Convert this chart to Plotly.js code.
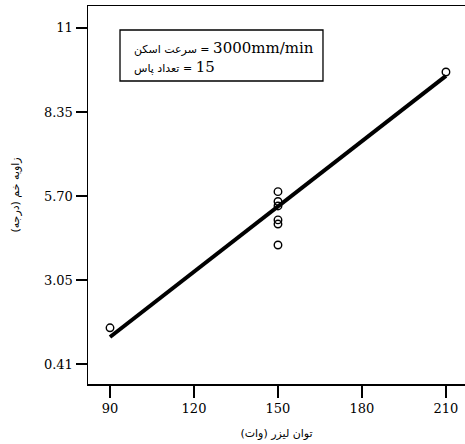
<!DOCTYPE html>
<html>
<head>
<meta charset="utf-8">
<script src="https://cdn.plot.ly/plotly-3.0.1.min.js"></script>
<style>html,body{margin:0;padding:0;background:#fff;}</style>
</head>
<body>
<div id="chart" style="width:465px;height:444px;"></div>
<script>
const laserPower = [90, 150, 150, 150, 150, 150, 150, 210];
const bendAngle = [1.55, 5.84, 5.53, 5.39, 4.95, 4.82, 4.16, 9.61];
// Fitted line end points
const fitPower = [90, 210];
const fitAngle = [1.26, 9.49];
// Tick labels
const xTickVals = [90, 120, 150, 180, 210];
const yTickVals = [0.41, 3.05, 5.70, 8.35, 11];
const yTickText = ["0.41", "3.05", "5.70", "8.35", "11"];
// Texts
const xTitle = "توان لیزر (وات)";
const yTitle = "زاویه خم (درجه)";
const noteLabel1 = "سرعت اسکن";
const noteValue1 = "3000mm/min";
const noteLabel2 = "تعداد پاس";
const noteValue2 = "15";

const arFont = "DejaVu Sans, Noto Sans, sans-serif";
const numFont = "DejaVu Serif, Liberation Serif, serif";

const traces = [
  {
    x: fitPower, y: fitAngle, type: 'scatter', mode: 'lines',
    line: {color: '#000', width: 4}, hoverinfo: 'skip', showlegend: false
  },
  {
    x: laserPower, y: bendAngle, type: 'scatter', mode: 'markers',
    marker: {symbol: 'circle-open', size: 7.5, color: '#000', line: {color: '#000', width: 1.4}},
    showlegend: false
  }
];

function noteText(label, value) {
  return label + '\u200E = \u200E<span style="font-family:DejaVu Serif;font-size:15px">' + value + '</span>';
}

const layout = {
  width: 465, height: 444,
  margin: {l: 88, r: 0, t: 6, b: 60, pad: 0},
  paper_bgcolor: '#fff', plot_bgcolor: '#fff',
  showlegend: false,
  font: {family: numFont, color: '#000', size: 13},
  xaxis: {
    range: [82.14, 216.8],
    tickvals: xTickVals,
    ticks: 'outside', ticklen: 12, tickwidth: 1.5, tickcolor: '#000',
    showline: true, linecolor: '#000', linewidth: 1.5, mirror: true,
    showgrid: false, zeroline: false,
    tickfont: {family: numFont, size: 13, color: '#000'},
    title: {text: xTitle, font: {family: arFont, size: 11, color: '#000'}, standoff: 14}
  },
  yaxis: {
    range: [-0.22, 11.69],
    tickvals: yTickVals, ticktext: yTickText,
    ticks: 'outside', ticklen: 11, tickwidth: 1.5, tickcolor: '#000',
    showline: true, linecolor: '#000', linewidth: 1.5, mirror: false,
    showgrid: false, zeroline: false,
    tickfont: {family: numFont, size: 13, color: '#000'},
    title: {text: yTitle, font: {family: arFont, size: 11, color: '#000'}, standoff: 22}
  },
  shapes: [
    {type: 'rect', xref: 'paper', yref: 'paper', x0: 0.0849, x1: 0.6233, y0: 0.8016, y1: 0.9365,
     line: {color: '#000', width: 1.3}, fillcolor: 'rgba(0,0,0,0)'}
  ],
  annotations: [
    {xref: 'paper', yref: 'paper', x: 0.1167, y: 0.889, xanchor: 'left', yanchor: 'middle',
     showarrow: false, align: 'left', font: {family: arFont, size: 11, color: '#000'},
     text: noteText(noteLabel1, noteValue1)},
    {xref: 'paper', yref: 'paper', x: 0.1167, y: 0.8386, xanchor: 'left', yanchor: 'middle',
     showarrow: false, align: 'left', font: {family: arFont, size: 11, color: '#000'},
     text: noteText(noteLabel2, noteValue2)}
  ]
};

Plotly.newPlot('chart', traces, layout, {displayModeBar: false, staticPlot: true});
</script>
</body>
</html>
